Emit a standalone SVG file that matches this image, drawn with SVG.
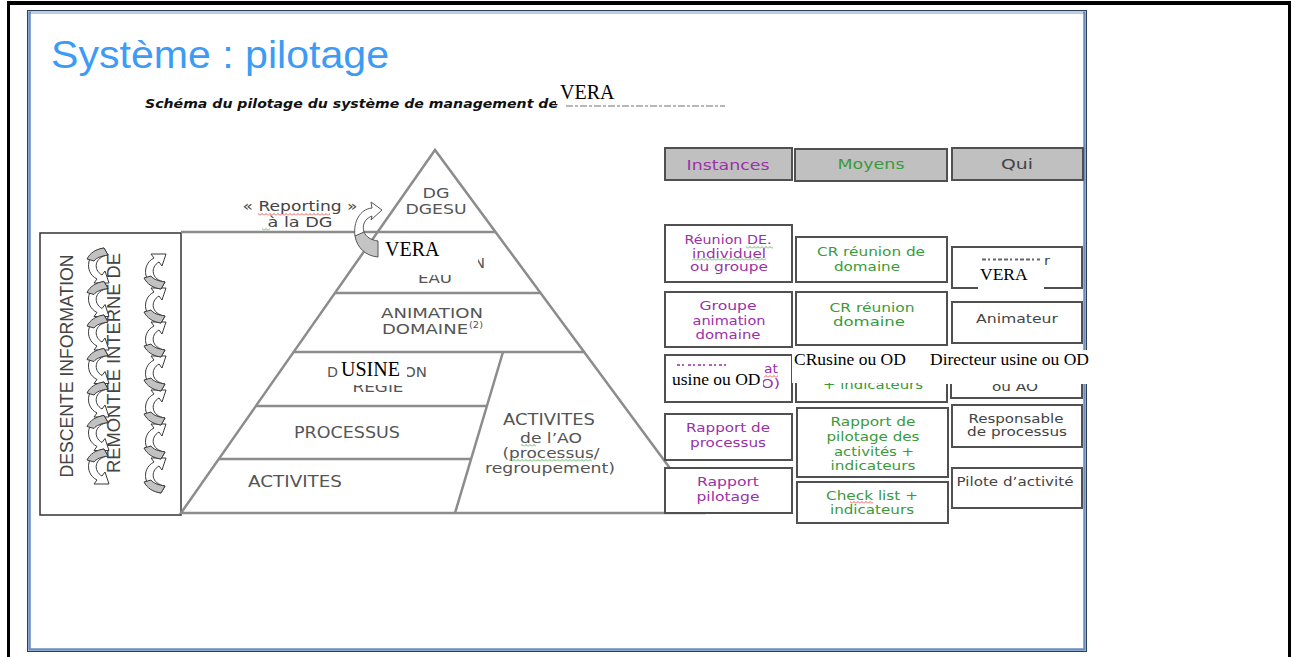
<svg xmlns="http://www.w3.org/2000/svg" width="1295" height="657" viewBox="0 0 1295 657">
<defs>
<style>
.ttl{font-family:"Liberation Sans",Arial,sans-serif;font-size:38px;fill:#3d9bf5}
.sub{font-family:"DejaVu Sans",sans-serif;font-size:12.5px;font-weight:bold;font-style:italic;fill:#111}
.pl{fill:none;stroke:#8c8c8c;stroke-width:2.5}
.pt{font-family:"DejaVu Sans",sans-serif;font-size:14px;fill:#555;text-anchor:middle}
.ps{font-family:"DejaVu Sans",sans-serif;font-size:14px;fill:#555}
.vr{font-family:"Liberation Serif","Times New Roman",serif;font-size:20px;fill:#000}
.vs{font-family:"Liberation Serif","Times New Roman",serif;font-size:17.5px;fill:#000}
.cov{fill:#fff}
.bx{fill:#fff;stroke:#505050;stroke-width:2}
.hd{fill:#c0c0c0;stroke:#505050;stroke-width:2}
.th{font-family:"DejaVu Sans",sans-serif;font-size:14.5px;text-anchor:middle}
.tt{font-family:"DejaVu Sans",sans-serif;font-size:13px;text-anchor:middle}
.ts{font-family:"DejaVu Sans",sans-serif;font-size:13px}
.pu{fill:#9b30a8}
.gr{fill:#3a9a3a}
.dk{fill:#444}
.lt{font-family:"Liberation Sans",Arial,sans-serif;font-size:17.5px;fill:#444;text-anchor:middle}
</style>
<pattern id="wr" width="4" height="3" patternUnits="userSpaceOnUse"><path d="M0 2.5 L2 0.5 L4 2.5" fill="none" stroke="#e03030" stroke-width="0.8"/></pattern>
<pattern id="wg" width="4" height="3" patternUnits="userSpaceOnUse"><path d="M0 2.5 L2 0.5 L4 2.5" fill="none" stroke="#3aa83a" stroke-width="0.8"/></pattern>
<g id="ca">
<path d="M20 0 C3 3 -1 24 13 31 L10 35 L25 35 L21 23 L18 27 C9 22 10 9 24 7 Z" fill="#fff" stroke="#3a3a3a" stroke-width="1"/>
<path d="M20 0 C12 1 6 5 3 11 L10 13 C12 10 17 8 24 7 Z" fill="#c2c2c2" stroke="#3a3a3a" stroke-width="1"/>
</g>
</defs>
<rect width="1295" height="657" fill="#fff"/>
<g id="page-frame">
<rect x="7" y="1" width="1284" height="4" fill="#000"/>
<rect x="7" y="1" width="3" height="656" fill="#000"/>
<rect x="1288" y="1" width="3" height="656" fill="#000"/>
</g>
<g id="slide">
<rect x="27.5" y="10.5" width="1059" height="641" fill="#fff" stroke="#2f3f55" stroke-width="1"/>
<rect x="29.5" y="12.5" width="1055" height="637" fill="none" stroke="#6a8dc2" stroke-width="2.5"/>
<line x1="31" y1="12.5" x2="1083" y2="12.5" stroke="#c3d2e8" stroke-width="2.5"/>
</g>
<g id="title">
<text x="51" y="68" class="ttl" textLength="338" lengthAdjust="spacingAndGlyphs">Système : pilotage</text>
</g>
<g id="subtitle">
<text x="145" y="108" class="sub" textLength="413" lengthAdjust="spacingAndGlyphs">Schéma du pilotage du système de management de</text>
<rect x="556" y="81" width="170" height="23" class="cov"/>
<line x1="566" y1="106" x2="725" y2="106" stroke="#a0a0a0" stroke-width="1.5" stroke-dasharray="7 2 3 2"/>
<text x="560" y="99" class="vr">VERA</text>
</g>
<g id="left-box">
<rect x="40" y="233" width="141" height="282" fill="#fff" stroke="#333" stroke-width="1.5"/>
<text transform="translate(73 366) rotate(-90)" class="lt" textLength="223" lengthAdjust="spacingAndGlyphs">DESCENTE INFORMATION</text>
<text transform="translate(120 363) rotate(-90)" class="lt" textLength="220" lengthAdjust="spacingAndGlyphs">REMONTEE INTERNE DE</text>
</g>
<g id="pyramid">
<polygon points="435,150 181,513 703,513" class="pl"/>
<line x1="181" y1="232" x2="496" y2="232" class="pl"/>
<line x1="335" y1="293" x2="541" y2="293" class="pl"/>
<line x1="293.6" y1="352" x2="585" y2="352" class="pl"/>
<line x1="255.8" y1="406" x2="487" y2="406" class="pl"/>
<line x1="218.7" y1="459" x2="471" y2="459" class="pl"/>
<line x1="503" y1="352" x2="455" y2="513" class="pl"/>
</g>
<g id="level-dg">
<text x="436" y="198" class="pt" textLength="27" lengthAdjust="spacingAndGlyphs">DG</text>
<text x="436" y="214" class="pt" textLength="61" lengthAdjust="spacingAndGlyphs">DGESU</text>
</g>
<g id="level-direction">
<text x="474" y="268" class="ps" textLength="11" lengthAdjust="spacingAndGlyphs">N</text>
<text x="435" y="283" class="pt" textLength="34" lengthAdjust="spacingAndGlyphs">EAU</text>
<rect x="383" y="236" width="95" height="39" class="cov"/>
<text x="385" y="256" class="vr">VERA</text>
</g>
<g id="level-animation">
<text x="432" y="318" class="pt" textLength="102" lengthAdjust="spacingAndGlyphs">ANIMATION</text>
<text x="382" y="334" class="ps" textLength="86" lengthAdjust="spacingAndGlyphs">DOMAINE</text>
<text x="469" y="328" class="ps" style="font-size:9px" textLength="14" lengthAdjust="spacingAndGlyphs">(2)</text>
</g>
<g id="level-regie">
<text x="327" y="377" class="ps" textLength="11" lengthAdjust="spacingAndGlyphs">D</text>
<text x="404" y="377" class="ps" textLength="23" lengthAdjust="spacingAndGlyphs">ON</text>
<text x="378" y="392" class="pt" textLength="51" lengthAdjust="spacingAndGlyphs">REGIE</text>
<rect x="339" y="357" width="68" height="28" class="cov"/>
<text x="341" y="376" class="vr">USINE</text>
</g>
<g id="level-processus">
<text x="347" y="438" class="pt" style="font-size:15px" textLength="106" lengthAdjust="spacingAndGlyphs">PROCESSUS</text>
</g>
<g id="level-activites">
<text x="295" y="487" class="pt" style="font-size:15px" textLength="94" lengthAdjust="spacingAndGlyphs">ACTIVITES</text>
</g>
<g id="level-activites-ao">
<text x="549" y="425" class="pt" style="font-size:15px" textLength="92" lengthAdjust="spacingAndGlyphs">ACTIVITES</text>
<text x="551" y="443" class="pt" textLength="62" lengthAdjust="spacingAndGlyphs">de l’AO</text>
<text x="551" y="458" class="pt" textLength="97" lengthAdjust="spacingAndGlyphs">(processus/</text>
<text x="550" y="473" class="pt" textLength="130" lengthAdjust="spacingAndGlyphs">regroupement)</text>
<rect x="521" y="444" width="15" height="3" fill="url(#wg)"/>
<rect x="509" y="459" width="83" height="3" fill="url(#wg)"/>
</g>
<g id="reporting-label">
<text x="300" y="211" class="pt" style="fill:#444" textLength="115" lengthAdjust="spacingAndGlyphs">« Reporting »</text>
<text x="300" y="227" class="pt" style="fill:#444" textLength="65" lengthAdjust="spacingAndGlyphs">à la DG</text>
<rect x="258" y="213" width="72" height="3" fill="url(#wr)"/>
<rect x="262" y="228" width="8" height="3" fill="url(#wg)"/>
</g>
<g id="connectors">
<path d="M378 241 L378 257 C366 256 357 248 355 236 C358 231 362 230 364 232 C366 237 371 240 378 241 Z" fill="#c4c4c4" stroke="#555" stroke-width="1"/>
<path d="M364 232 C362 226 364 219 372 216 L371 220 L382 210 L371 202 L372 208 C360 209 353 222 355 236 Z" fill="#fff" stroke="#555" stroke-width="1"/>
<use href="#ca" transform="translate(84 248)"/>
<use href="#ca" transform="translate(84 281.5)"/>
<use href="#ca" transform="translate(84 315)"/>
<use href="#ca" transform="translate(84 348.5)"/>
<use href="#ca" transform="translate(84 382)"/>
<use href="#ca" transform="translate(84 415.5)"/>
<use href="#ca" transform="translate(84 449)"/>
<use href="#ca" transform="translate(141 493) scale(1 -1)"/>
<use href="#ca" transform="translate(141 459) scale(1 -1)"/>
<use href="#ca" transform="translate(141 425) scale(1 -1)"/>
<use href="#ca" transform="translate(141 391) scale(1 -1)"/>
<use href="#ca" transform="translate(141 357) scale(1 -1)"/>
<use href="#ca" transform="translate(141 323) scale(1 -1)"/>
<use href="#ca" transform="translate(141 289) scale(1 -1)"/>
</g>
<g id="hdr-instances">
<rect x="665" y="148" width="127" height="32" class="hd"/>
<text x="728" y="170" class="th pu" textLength="83" lengthAdjust="spacingAndGlyphs">Instances</text>
</g>
<g id="hdr-moyens">
<rect x="795" y="149" width="152" height="32" class="hd"/>
<text x="871" y="169" class="th gr" textLength="67" lengthAdjust="spacingAndGlyphs">Moyens</text>
</g>
<g id="hdr-qui">
<rect x="952" y="148" width="131" height="32" class="hd"/>
<text x="1017" y="169" class="th dk" textLength="32" lengthAdjust="spacingAndGlyphs">Qui</text>
</g>
<g id="inst-1">
<rect x="665" y="225" width="127" height="57" class="bx"/>
<text x="728" y="244" class="tt pu" textLength="87" lengthAdjust="spacingAndGlyphs">Réunion DE.</text>
<text x="729" y="258" class="tt pu" textLength="74" lengthAdjust="spacingAndGlyphs">individuel</text>
<text x="729" y="271" class="tt pu" textLength="78" lengthAdjust="spacingAndGlyphs">ou groupe</text>
<rect x="746" y="246" width="27" height="3" fill="url(#wg)"/>
<rect x="692" y="258" width="74" height="3" fill="url(#wg)"/>
</g>
<g id="inst-2">
<rect x="665" y="292" width="127" height="55" class="bx"/>
<text x="728" y="310" class="tt pu" textLength="57" lengthAdjust="spacingAndGlyphs">Groupe</text>
<text x="729" y="325" class="tt pu" textLength="73" lengthAdjust="spacingAndGlyphs">animation</text>
<text x="728" y="339" class="tt pu" textLength="65" lengthAdjust="spacingAndGlyphs">domaine</text>
</g>
<g id="inst-3">
<rect x="665" y="355" width="127" height="47" class="bx"/>
<line x1="677" y1="365" x2="728" y2="365" stroke="#b060b8" stroke-width="2" stroke-dasharray="3 2 2 4 3 2 2 3"/>
<text x="764" y="373" class="ts pu" textLength="14" lengthAdjust="spacingAndGlyphs">at</text>
<rect x="764" y="375" width="14" height="3" fill="url(#wr)"/>
<text x="761" y="388" class="ts pu" textLength="19" lengthAdjust="spacingAndGlyphs">O)</text>
<rect x="668" y="367" width="95" height="24" class="cov"/>
<text x="672" y="385" class="vs">usine ou OD</text>
</g>
<g id="inst-4">
<rect x="665" y="414" width="127" height="46" class="bx"/>
<text x="728" y="432" class="tt pu" textLength="84" lengthAdjust="spacingAndGlyphs">Rapport de</text>
<text x="728" y="447" class="tt pu" textLength="76" lengthAdjust="spacingAndGlyphs">processus</text>
</g>
<g id="inst-5">
<rect x="665" y="468" width="127" height="45" class="bx"/>
<text x="728" y="486" class="tt pu" textLength="62" lengthAdjust="spacingAndGlyphs">Rapport</text>
<text x="728" y="501" class="tt pu" textLength="63" lengthAdjust="spacingAndGlyphs">pilotage</text>
</g>
<g id="moy-1">
<rect x="796" y="237" width="151" height="45" class="bx"/>
<text x="871" y="256" class="tt gr" textLength="108" lengthAdjust="spacingAndGlyphs">CR réunion de</text>
<text x="867" y="271" class="tt gr" textLength="66" lengthAdjust="spacingAndGlyphs">domaine</text>
</g>
<g id="moy-2">
<rect x="796" y="292" width="151" height="53" class="bx"/>
<text x="872" y="312" class="tt gr" textLength="85" lengthAdjust="spacingAndGlyphs">CR réunion</text>
<text x="869" y="326" class="tt gr" textLength="72" lengthAdjust="spacingAndGlyphs">domaine</text>
</g>
<g id="moy-3">
<rect x="796" y="353" width="151" height="49" class="bx"/>
<text x="873" y="389" class="tt gr" textLength="100" lengthAdjust="spacingAndGlyphs">+ indicateurs</text>
</g>
<g id="moy-4">
<rect x="797" y="408" width="151" height="69" class="bx"/>
<text x="873" y="426" class="tt gr" textLength="85" lengthAdjust="spacingAndGlyphs">Rapport de</text>
<text x="873" y="441" class="tt gr" textLength="93" lengthAdjust="spacingAndGlyphs">pilotage des</text>
<text x="874" y="456" class="tt gr" textLength="80" lengthAdjust="spacingAndGlyphs">activités +</text>
<text x="873" y="470" class="tt gr" textLength="85" lengthAdjust="spacingAndGlyphs">indicateurs</text>
</g>
<g id="moy-5">
<rect x="797" y="482" width="151" height="41" class="bx"/>
<text x="872" y="500" class="tt gr" textLength="92" lengthAdjust="spacingAndGlyphs">Check list +</text>
<text x="872" y="514" class="tt gr" textLength="84" lengthAdjust="spacingAndGlyphs">indicateurs</text>
<rect x="850" y="501" width="23" height="3" fill="url(#wr)"/>
</g>
<g id="qui-1">
<rect x="952" y="247" width="130" height="41" class="bx"/>
<line x1="982" y1="259.5" x2="1040" y2="259.5" stroke="#666" stroke-width="2" stroke-dasharray="4 2 2 3 3 2 4 2"/>
<text x="1044" y="265" class="ts dk" textLength="6" lengthAdjust="spacingAndGlyphs">r</text>
<rect x="978" y="262" width="66" height="28" class="cov"/>
<text x="980" y="280" class="vs">VERA</text>
</g>
<g id="qui-2">
<rect x="952" y="302" width="130" height="41" class="bx"/>
<text x="1017" y="323" class="tt dk" textLength="82" lengthAdjust="spacingAndGlyphs">Animateur</text>
</g>
<g id="qui-3">
<rect x="951" y="353" width="131" height="45" class="bx"/>
<text x="1015" y="391" class="tt dk" textLength="46" lengthAdjust="spacingAndGlyphs">ou AO</text>
</g>
<g id="qui-4">
<rect x="952" y="405" width="130" height="42" class="bx"/>
<text x="1016" y="423" class="tt dk" textLength="95" lengthAdjust="spacingAndGlyphs">Responsable</text>
<text x="1017" y="436" class="tt dk" textLength="100" lengthAdjust="spacingAndGlyphs">de processus</text>
</g>
<g id="qui-5">
<rect x="952" y="468" width="130" height="40" class="bx"/>
<text x="1015" y="486" class="tt dk" textLength="117" lengthAdjust="spacingAndGlyphs">Pilote d’activité</text>
</g>
<g id="overlay-row3">
<rect x="792" y="350" width="136" height="33" class="cov"/>
<text x="794" y="365" class="vs">CRusine ou OD</text>
<rect x="928" y="350" width="161" height="34" class="cov"/>
<text x="930" y="365" class="vs">Directeur usine ou OD</text>
</g>
</svg>
